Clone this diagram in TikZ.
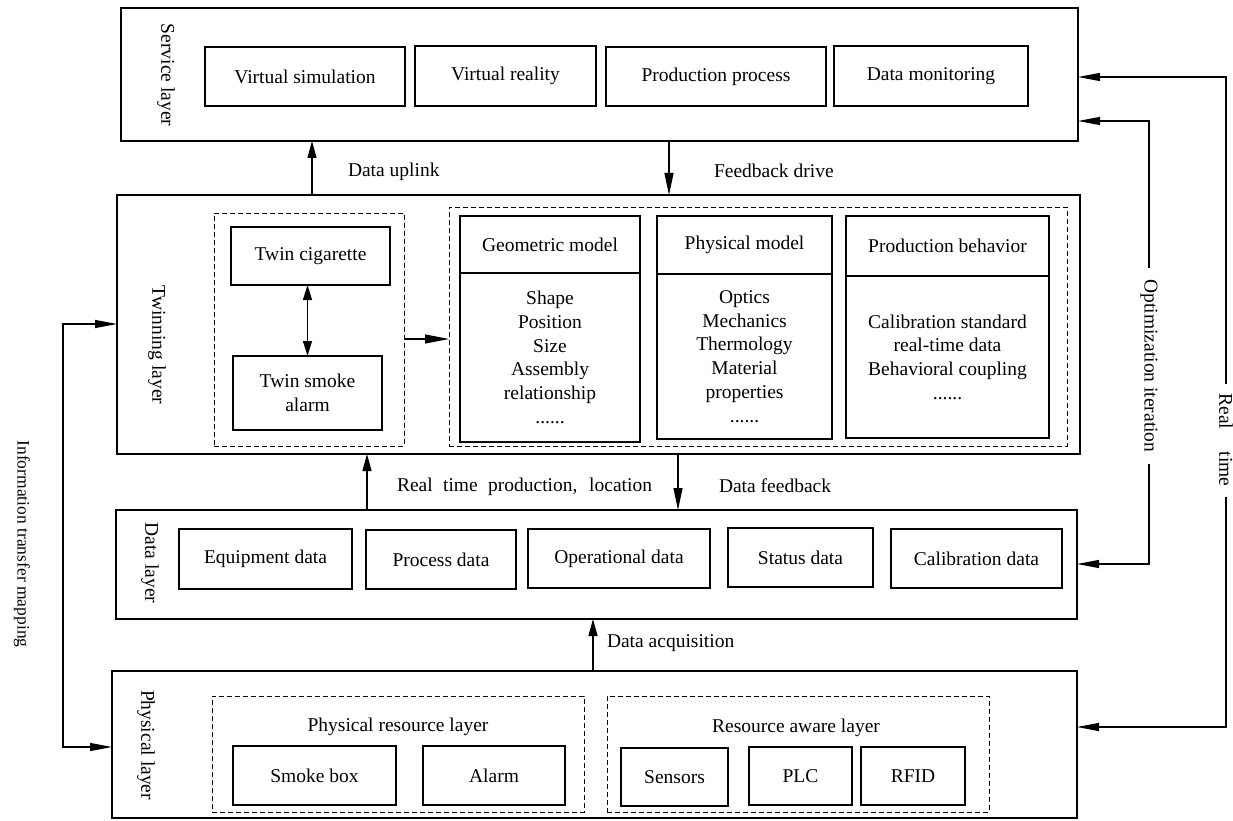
\documentclass[tikz,border=0pt]{standalone}
\usepackage{fontspec}
\setmainfont{Liberation Serif}
\usetikzlibrary{arrows.meta}

% rectangle node given by its corners: style, name, x1, y1, x2, y2, text
\newcommand{\boxat}[7]{%
  \node[#1, minimum width={(#5-#3)*1pt}, minimum height={(#6-#4)*1pt}]
    (#2) at ({(#3+#5)/2},{(#4+#6)/2}) {#7};}

\begin{document}
\begin{tikzpicture}[x=1pt,y=-1pt,
  every node/.style={inner sep=0pt, outer sep=0pt, font=\fontsize{19.5}{23.7}\selectfont},
  layer/.style={draw, line width=1.5pt},
  box/.style={draw, line width=1.5pt, align=center},
  group/.style={draw, line width=1pt, dash pattern=on 5pt off 3pt},
  conn/.style={line width=1.1pt},
  side/.style={rotate=-90},
  upT/.style={-{Triangle[length=17pt,width=9pt]}},
  downT/.style={-{Triangle[length=22pt,width=9pt]}},
  sideT/.style={-{Triangle[length=22pt,width=8pt]}},
  bothT/.style={{Triangle[length=22pt,width=8pt]}-{Triangle[length=22pt,width=8pt]}},
  pairT/.style={{Triangle[length=15pt,width=9pt]}-{Triangle[length=15pt,width=9pt]}},
]
\useasboundingbox (0,0) rectangle (1233,821);

% ---------- service layer ----------
\boxat{layer}{svc}{121}{8}{1078}{141}{}
\node[side] at (166,75) {Service layer};
\boxat{box}{vs}{205}{47}{405}{106}{Virtual simulation}
\boxat{box}{vr}{415}{46}{596}{106}{Virtual reality}
\boxat{box}{pp}{606}{47}{826}{106}{Production process}
\boxat{box}{dm}{834}{46}{1028}{106}{Data monitoring}

% ---------- twinning layer ----------
\boxat{layer}{twin}{117}{195}{1080}{454}{}
\node[side] at (157,345) {Twinning layer};
\boxat{group}{tgl}{214}{213}{404}{446}{}
\boxat{box}{tc}{231}{227}{390}{285}{Twin cigarette}
\boxat{box}{tsa}{233}{356}{382}{430}{Twin smoke\\alarm}
\boxat{group}{tgr}{449}{207}{1067}{446}{}

\boxat{box}{gmh}{460}{216}{640}{273}{Geometric model}
\boxat{box}{gmb}{460}{273}{640}{442}{Shape\\Position\\Size\\Assembly\\relationship\\......}
\boxat{box}{pmh}{657}{216}{832}{274}{Physical model}
\boxat{box}{pmb}{657}{274}{832}{439}{Optics\\Mechanics\\Thermology\\Material\\properties\\......}
\boxat{box}{pbh}{846}{216}{1049}{276}{Production behavior}
\boxat{box}{pbb}{846}{276}{1049}{438}{Calibration standard\\real-time data\\Behavioral coupling\\......}

\draw[conn, pairT] (tsa.north |- tc.south) -- (tsa.north);
\coordinate (tw) at (0,339);
\draw[conn, -{Triangle[length=24pt,width=9pt]}] (tgl.east |- tw) -- (tgr.west |- tw);

% ---------- data layer ----------
\boxat{layer}{data}{116}{510}{1077}{619}{}
\node[side] at (150,563) {Data layer};
\boxat{box}{ed}{179}{529}{352}{589}{Equipment data}
\boxat{box}{pd}{366}{530}{516}{589}{Process data}
\boxat{box}{od}{528}{529}{710}{588}{Operational data}
\boxat{box}{sd}{728}{528}{873}{587}{Status data}
\boxat{box}{cd}{891}{529}{1062}{588}{Calibration data}

% ---------- physical layer ----------
\boxat{layer}{phys}{112}{671}{1077}{818}{}
\node[side] at (146,745) {Physical layer};
\boxat{group}{prl}{212}{696}{584}{812}{}
\node at (398,727) {Physical resource layer};
\boxat{box}{sb}{233}{746}{396}{805}{Smoke box}
\boxat{box}{al}{423}{746}{565}{805}{Alarm}
\boxat{group}{ral}{607}{696}{989}{812}{}
\node at (796,728) {Resource aware layer};
\boxat{box}{sen}{621}{748}{728}{806}{Sensors}
\boxat{box}{plc}{749}{747}{852}{805}{PLC}
\boxat{box}{rfid}{861}{747}{965}{805}{RFID}

% ---------- flows between layers ----------
\coordinate (du) at (312,0);
\draw[conn, upT] (twin.north -| du) -- (svc.south -| du);
\node[anchor=west] at (348,172) {Data uplink};

\coordinate (fd) at (669,0);
\draw[conn, downT] (svc.south -| fd) -- (twin.north -| fd);
\node[anchor=west] at (714,171) {Feedback drive};

\coordinate (rp) at (367,0);
\draw[conn, upT] (data.north -| rp) -- (twin.south -| rp);
\node[anchor=west] at (397,487) {\makebox[255pt][s]{Real time production, location}};

\coordinate (df) at (678,0);
\draw[conn, downT] (twin.south -| df) -- (data.north -| df);
\node[anchor=west] at (719,486) {Data feedback};

\coordinate (da) at (593,0);
\draw[conn, upT] (phys.north -| da) -- (data.south -| da);
\node[anchor=west] at (607,643) {Data acquisition};

% ---------- left loop ----------
\coordinate (it1) at (63,324);
\coordinate (it2) at (63,747);
\draw[conn, bothT] (twin.west |- it1) -- (it1) -- (it2) -- (phys.west |- it2);
\node[side, font=\fontsize{17.5}{20}\selectfont] at (22,544) {Information transfer mapping};

% ---------- right loops ----------
\coordinate (oi1) at (1149,121);
\coordinate (oi2) at (1149,564);
\node[side, inner xsep=12pt] (oil) at (1149,366) {Optimization iteration};
\draw[conn, sideT] (oil.west) -- (oi1) -- (svc.east |- oi1);
\draw[conn, sideT] (oil.east) -- (oi2) -- (data.east |- oi2);

\coordinate (rt1) at (1226,77);
\coordinate (rt2) at (1226,727);
\node[side, inner xsep=10pt] (rtl) at (1226,440) {\makebox[93pt][s]{Real time}};
\draw[conn, sideT] (rtl.west) -- (rt1) -- (svc.east |- rt1);
\draw[conn, sideT] (rtl.east) -- (rt2) -- (phys.east |- rt2);
\end{tikzpicture}
\end{document}
